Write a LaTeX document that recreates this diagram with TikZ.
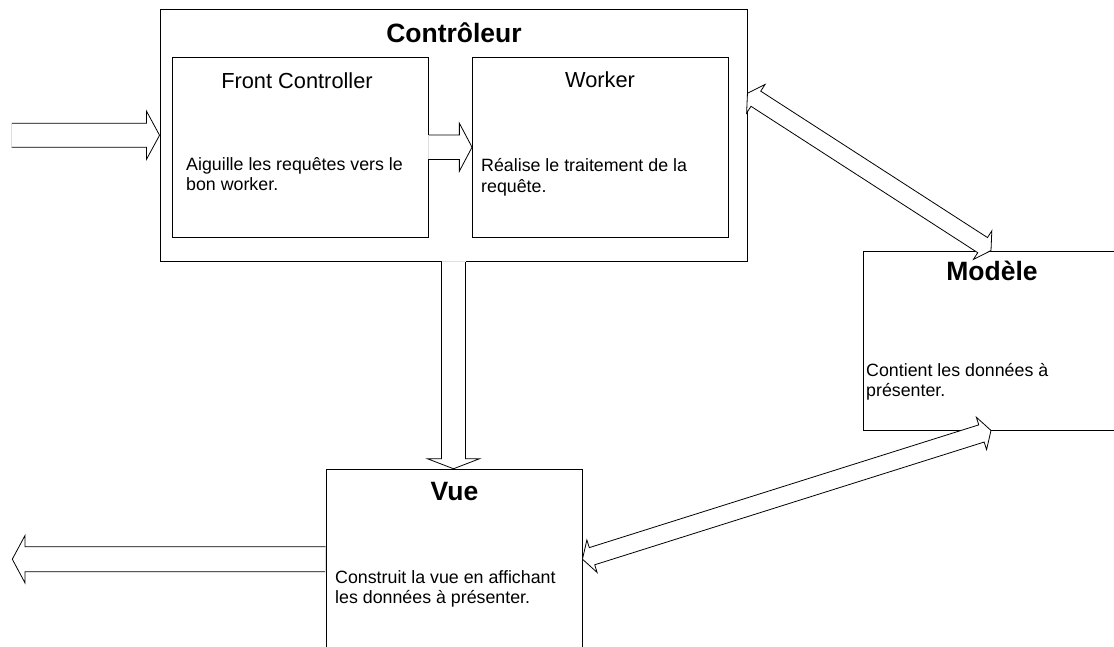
\documentclass[tikz,border=0pt]{standalone}
\usepackage{fontspec}
\setmainfont{Liberation Sans}
\usetikzlibrary{calc}
\tikzset{box/.style={draw, rectangle, inner sep=0pt, line width=0.9pt},
  ttl/.style={font=\fontsize{26.5}{31}\selectfont\bfseries, inner sep=0pt, anchor=base},
  hdr/.style={font=\fontsize{21.8}{26}\selectfont, inner sep=0pt, anchor=base},
  txt/.style={font=\fontsize{17.8}{20.5}\selectfont, inner sep=0pt, align=left, anchor=base west},
  blk/.style={draw=black, line width=0.8pt, line join=miter}}

% hollow block arrow: tail, tip, shaft half width, head half width, head length
\newcommand{\blockarrow}[5]{%
  \coordinate (bh) at ($(#2)!#5!(#1)$);
  \fill[white] ($(#1)!#3!90:(#2)$) -- ($(bh)!#3!90:(#2)$) -- ($(bh)!#4!90:(#2)$) -- (#2)
    -- ($(bh)!#4!-90:(#2)$) -- ($(bh)!#3!-90:(#2)$) -- ($(#1)!#3!-90:(#2)$) -- cycle;
  \draw[blk] ($(#1)!#3!90:(#2)$) -- ($(bh)!#3!90:(#2)$) -- ($(bh)!#4!90:(#2)$) -- (#2)
    -- ($(bh)!#4!-90:(#2)$) -- ($(bh)!#3!-90:(#2)$) -- ($(#1)!#3!-90:(#2)$);
  \draw[gray!25, line width=0.8pt] ($(#1)!#3!90:(#2)$) -- ($(#1)!#3!-90:(#2)$);
}
% hollow arrow with a head at both ends
\newcommand{\dblarrow}[5]{%
  \coordinate (da) at ($(#1)!#5!(#2)$);
  \coordinate (db) at ($(#2)!#5!(#1)$);
  \filldraw[blk, fill=white] (#1) -- ($(da)!#4!90:(#2)$) -- ($(da)!#3!90:(#2)$)
    -- ($(db)!#3!90:(#2)$) -- ($(db)!#4!90:(#2)$) -- (#2) -- ($(db)!#4!-90:(#2)$)
    -- ($(db)!#3!-90:(#2)$) -- ($(da)!#3!-90:(#2)$) -- ($(da)!#4!-90:(#2)$) -- cycle;
}

\begin{document}
\begin{tikzpicture}[x=1pt, y=-1pt]
  \useasboundingbox (0,0) rectangle (1114,646);
  \fill[white] (0,0) rectangle (1114,646);

  % boxes
  \node[box, minimum width=587pt, minimum height=251.5pt] (ctrl) at (453.5,135.25) {};
  \node[box, minimum width=256pt, minimum height=180pt] (fc) at (300.3,147.2) {};
  \node[box, minimum width=256pt, minimum height=180pt] (wk) at (600.5,147.2) {};
  \node[box, minimum width=256pt, minimum height=179pt] (mod) at (991,340.5) {};
  \node[box, minimum width=256pt, minimum height=180pt] (vue) at (454,559.2) {};

  % free ends
  \coordinate (in) at (11.7,135.25);
  \coordinate (out) at (12.3,559.2);
  \coordinate (ctrl-r) at (ctrl.east |- 0,93.3);

  % arrows
  \blockarrow{in}{ctrl.west}{12pt}{24pt}{13pt}
  \blockarrow{fc.east}{wk.west}{12.2pt}{24pt}{12.7pt}
  \blockarrow{ctrl.south}{ctrl.south |- vue.north}{12pt}{26pt}{10pt}
  \blockarrow{vue.west}{out}{12.5pt}{23.7pt}{12.7pt}
  \dblarrow{ctrl-r}{mod.north}{9pt}{17pt}{10pt}
  \dblarrow{vue.east}{mod.south}{9pt}{17pt}{10pt}

  % texts (multi-line nodes sit on their last baseline)
  \node[ttl] (ctrl-t) at (454,42.7) {Contrôleur};
  \node[hdr] (fc-t) at (297,88.3) {Front Controller};
  \node[txt] (fc-d) at (186,190.7) {Aiguille les requêtes vers le\\bon worker.};
  \node[hdr] (wk-t) at (600,87.7) {Worker};
  \node[txt] (wk-d) at (481,192) {Réalise le traitement de la\\requête.};
  \node[ttl] (mod-t) at (992,280.7) {Modèle};
  \node[txt] (mod-d) at (866,396.7) {Contient les données à\\présenter.};
  \node[ttl] (vue-t) at (454.5,500) {Vue};
  \node[txt] (vue-d) at (335,603.5) {Construit la vue en affichant\\les données à présenter.};
\end{tikzpicture}
\end{document}
